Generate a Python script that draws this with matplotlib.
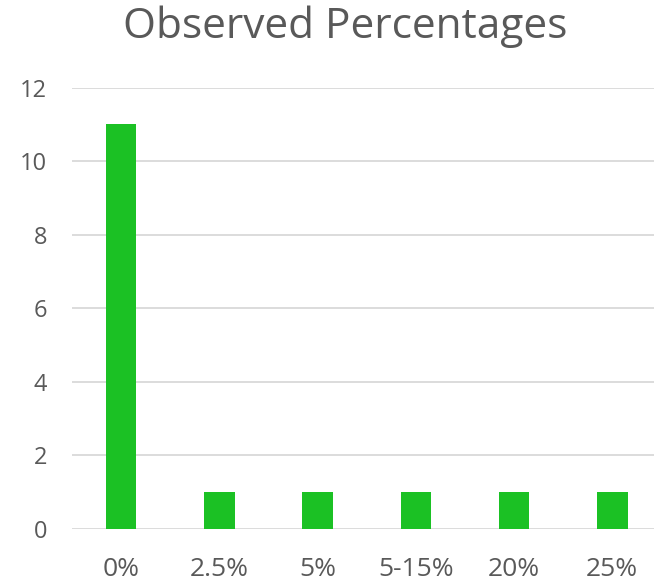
import matplotlib
matplotlib.use("Agg")
import matplotlib.pyplot as plt

categories = ["0%", "2.5%", "5%", "5-15%", "20%", "25%"]
counts = [11, 1, 1, 1, 1, 1]
y_ticks = [0, 2, 4, 6, 8, 10, 12]

text_color = "#595959"
grid_color = "#D9D9D9"
bar_color = "#1BC124"

plt.rcParams["font.family"] = ["Open Sans", "DejaVu Sans"]

W, H = 654, 583
fig = plt.figure(figsize=(W / 100, H / 100), dpi=100)
fig.patch.set_facecolor("white")

left, right = 72 / W, 661.4 / W
bottom, top = (H - 529) / H, (H - 87.7) / H
ax = fig.add_axes([left, bottom, right - left, top - bottom])

x = range(len(categories))
ax.bar(x, counts, width=0.31, color=bar_color, zorder=3)

ax.set_xlim(-0.5, len(categories) - 0.5)
ax.set_ylim(0, 12)
ax.set_yticks(y_ticks)
ax.set_yticklabels([str(t) for t in y_ticks])
ax.set_xticks(list(x))
ax.set_xticklabels(categories)

ax.grid(axis="y", color=grid_color, linewidth=1.3, zorder=0)
ax.set_axisbelow(True)
for s in ax.spines.values():
    s.set_visible(False)
ax.tick_params(axis="both", length=0, labelcolor=text_color)
ax.tick_params(axis="y", labelsize=17, pad=18)
ax.tick_params(axis="x", labelsize=19, pad=20)

fig.text(0.5 * (122 + 568) / W, 1 - 27 / H, "Observed Percentages",
         ha="center", va="center", fontsize=30.5, color=text_color)

fig.savefig("out.png", dpi=100)
